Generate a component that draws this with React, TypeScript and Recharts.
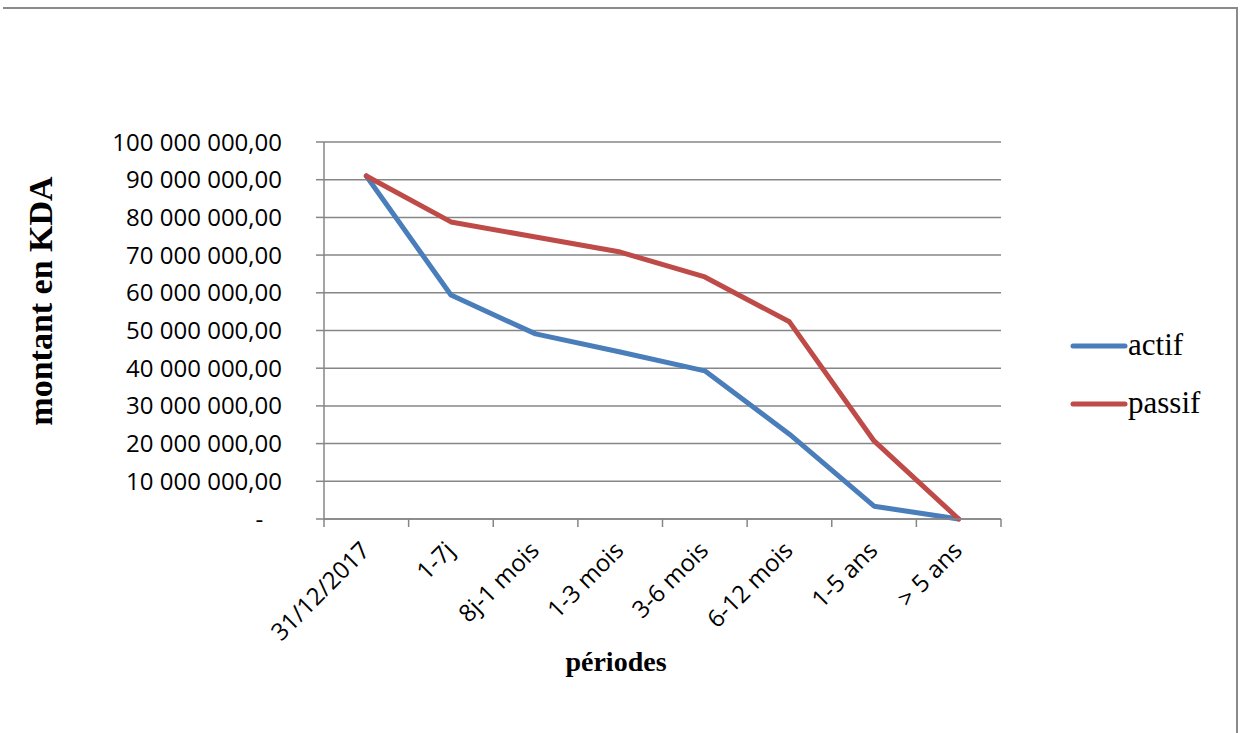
import React from 'react';
import { LineChart, Line, XAxis, YAxis, CartesianGrid, Legend } from 'recharts';

const categories = ['31/12/2017', '1-7j', '8j-1 mois', '1-3 mois', '3-6 mois', '6-12 mois', '1-5 ans', '> 5 ans'];
const actif = [91000000, 59400000, 49100000, 44300000, 39300000, 22500000, 3400000, 0];
const passif = [91000000, 78800000, 74800000, 70800000, 64200000, 52300000, 20700000, 0];
const yTicks = [0, 10000000, 20000000, 30000000, 40000000, 50000000, 60000000, 70000000, 80000000, 90000000, 100000000];

const data = categories.map((c, i) => ({ periode: c, actif: actif[i], passif: passif[i] }));

const GRID = '#868686';
const BLUE = '#4A7EBB';
const RED = '#BE4B48';
const TICK_FONT = "'Open Sans', sans-serif";
const SERIF = "'Liberation Serif', 'Times New Roman', serif";

const fmtY = (v: number) => {
  if (v === 0) return '-\u00a0\u00a0\u00a0';
  return String(v).replace(/\B(?=(\d{3})+(?!\d))/g, ' ') + ',00';
};

const XTick = (props: any) => {
  const { x, y, payload, index, visibleTicksCount } = props;
  const off = payload && typeof payload.offset === 'number' ? payload.offset : 0;
  const isLast = index === visibleTicksCount - 1;
  const tx = x + 5;
  const ty = y + 33;
  return (
    <g>
      <line x1={x - off} x2={x - off} y1={y} y2={y + 8} stroke={GRID} strokeWidth={1.5} />
      {isLast && <line x1={x + off} x2={x + off} y1={y} y2={y + 8} stroke={GRID} strokeWidth={1.5} />}
      <text
        x={tx}
        y={ty}
        textAnchor="end"
        transform={`rotate(-45, ${tx}, ${ty})`}
        fontFamily={TICK_FONT}
        fontSize={24}
        fill="#000"
      >
        {payload.value}
      </text>
    </g>
  );
};

const LegendContent = () => {
  const items = [
    { name: 'actif', color: BLUE },
    { name: 'passif', color: RED },
  ];
  return (
    <div>
      {items.map((it) => (
        <div key={it.name} style={{ display: 'flex', alignItems: 'center', height: 58 }}>
          <svg width={58} height={10} style={{ display: 'block' }}>
            <line x1={3} x2={55} y1={5} y2={5} stroke={it.color} strokeWidth={5} strokeLinecap="round" />
          </svg>
          <span style={{ fontFamily: SERIF, fontSize: 31, color: '#000', lineHeight: '31px', marginTop: -4 }}>{it.name}</span>
        </div>
      ))}
    </div>
  );
};

export default function App() {
  return (
    <div style={{ position: 'relative', width: 1245, height: 733, background: '#fff', overflow: 'hidden' }}>
      <style>{'body{margin:0;background:#fff}'}</style>
      <div
        style={{
          position: 'absolute',
          left: 3,
          top: 7,
          width: 1233,
          height: 760,
          borderTop: '2px solid #8a8a8a',
          borderRight: '2px solid #8a8a8a',
        }}
      />
      <div style={{ position: 'absolute', left: 0, top: 0 }}>
        <LineChart width={1245} height={733} data={data} margin={{ top: 142, right: 74, left: 0, bottom: 0 }}>
          <CartesianGrid horizontal vertical={false} stroke={GRID} strokeWidth={1.5} />
          <XAxis
            dataKey="periode"
            scale="band"
            height={214}
            axisLine={{ stroke: GRID, strokeWidth: 1.5 }}
            tickLine={false}
            tickSize={0}
            tickMargin={0}
            interval={0}
            tick={<XTick />}
          />
          <YAxis
            width={324}
            domain={[0, 100000000]}
            ticks={yTicks}
            interval={0}
            tickFormatter={fmtY}
            axisLine={{ stroke: GRID, strokeWidth: 1.5 }}
            tickLine={{ stroke: GRID, strokeWidth: 1.5 }}
            tickSize={8}
            tickMargin={34}
            tick={{ fontFamily: TICK_FONT, fontSize: 24, fill: '#000' }}
          />
          <Legend
            layout="vertical"
            align="right"
            verticalAlign="middle"
            content={<LegendContent />}
            wrapperStyle={{ position: 'absolute', left: 1070, top: 317, width: 170, right: 'auto' }}
          />
          <Line
            type="linear"
            dataKey="actif"
            stroke={BLUE}
            strokeWidth={5}
            dot={false}
            activeDot={false}
            strokeLinejoin="round"
            strokeLinecap="round"
            isAnimationActive={false}
          />
          <Line
            type="linear"
            dataKey="passif"
            stroke={RED}
            strokeWidth={5}
            dot={false}
            activeDot={false}
            strokeLinejoin="round"
            strokeLinecap="round"
            isAnimationActive={false}
          />
        </LineChart>
      </div>
      <svg width={1245} height={733} style={{ position: 'absolute', left: 0, top: 0, pointerEvents: 'none' }}>
        <text
          x={52}
          y={301}
          textAnchor="middle"
          transform="rotate(-90, 52, 301)"
          fontFamily={SERIF}
          fontWeight="bold"
          fontSize={34}
          fill="#000"
        >
          montant en KDA
        </text>
        <text x={616} y={671} textAnchor="middle" fontFamily={SERIF} fontWeight="bold" fontSize={28} fill="#000">
          périodes
        </text>
      </svg>
    </div>
  );
}
